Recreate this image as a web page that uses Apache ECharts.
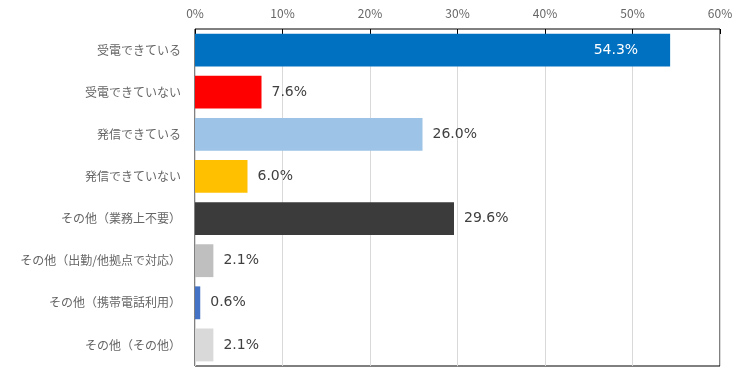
<!DOCTYPE html>
<html><head><meta charset="utf-8">
<script src="https://cdn.jsdelivr.net/npm/echarts@6/dist/echarts.min.js"></script>
<style>html,body{margin:0;padding:0;background:#fff}#c{width:737px;height:370px}</style>
</head><body><div id="c"></div>
<script>
const categories = ['受電できている','受電できていない','発信できている','発信できていない','その他（業務上不要）','その他（出勤/他拠点で対応）','その他（携帯電話利用）','その他（その他）'];
const values = [54.3, 7.6, 26.0, 6.0, 29.6, 2.1, 0.6, 2.1];
const colors = ['#0070C0','#FF0000','#9DC3E6','#FFC000','#3B3B3B','#BFBFBF','#4472C4','#D9D9D9'];
const tickLabels = ['0%','10%','20%','30%','40%','50%','60%'];

const chart = echarts.init(document.getElementById('c'));
const font = '"Noto Sans CJK JP", sans-serif';
chart.setOption({
  animation: false,
  grid: {left: 195, right: 17, top: 29, bottom: 4, show: true, borderColor: '#000', borderWidth: 1, backgroundColor: 'transparent'},
  xAxis: {
    type: 'value', position: 'top', min: 0, max: 60, interval: 10,
    axisLine: {show: false},
    axisTick: {show: true, inside: true, length: 5, lineStyle: {color: '#000'}},
    splitLine: {show: true, lineStyle: {color: '#D9D9D9'}},
    axisLabel: {color: '#666', fontSize: 12, fontFamily: font, margin: 10,
      formatter: v => tickLabels[Math.round(v / 10)]}
  },
  yAxis: {
    type: 'category', data: categories, inverse: true,
    axisLine: {show: false}, axisTick: {show: false},
    axisLabel: {color: '#666', fontSize: 12, fontFamily: font, margin: 14}
  },
  series: [{
    type: 'bar', barCategoryGap: '22%',
    data: values.map((v, i) => ({
      value: v,
      itemStyle: {color: colors[i]},
      label: i === 0 ? {position: 'insideRight', color: '#fff', offset: [-22, 0]} : {position: 'right', color: '#404040'}
    })),
    label: {show: true, fontSize: 14, fontFamily: '"DejaVu Sans", sans-serif', distance: 10,
      formatter: p => p.value.toFixed(1) + '%'}
  }]
});
</script></body></html>
